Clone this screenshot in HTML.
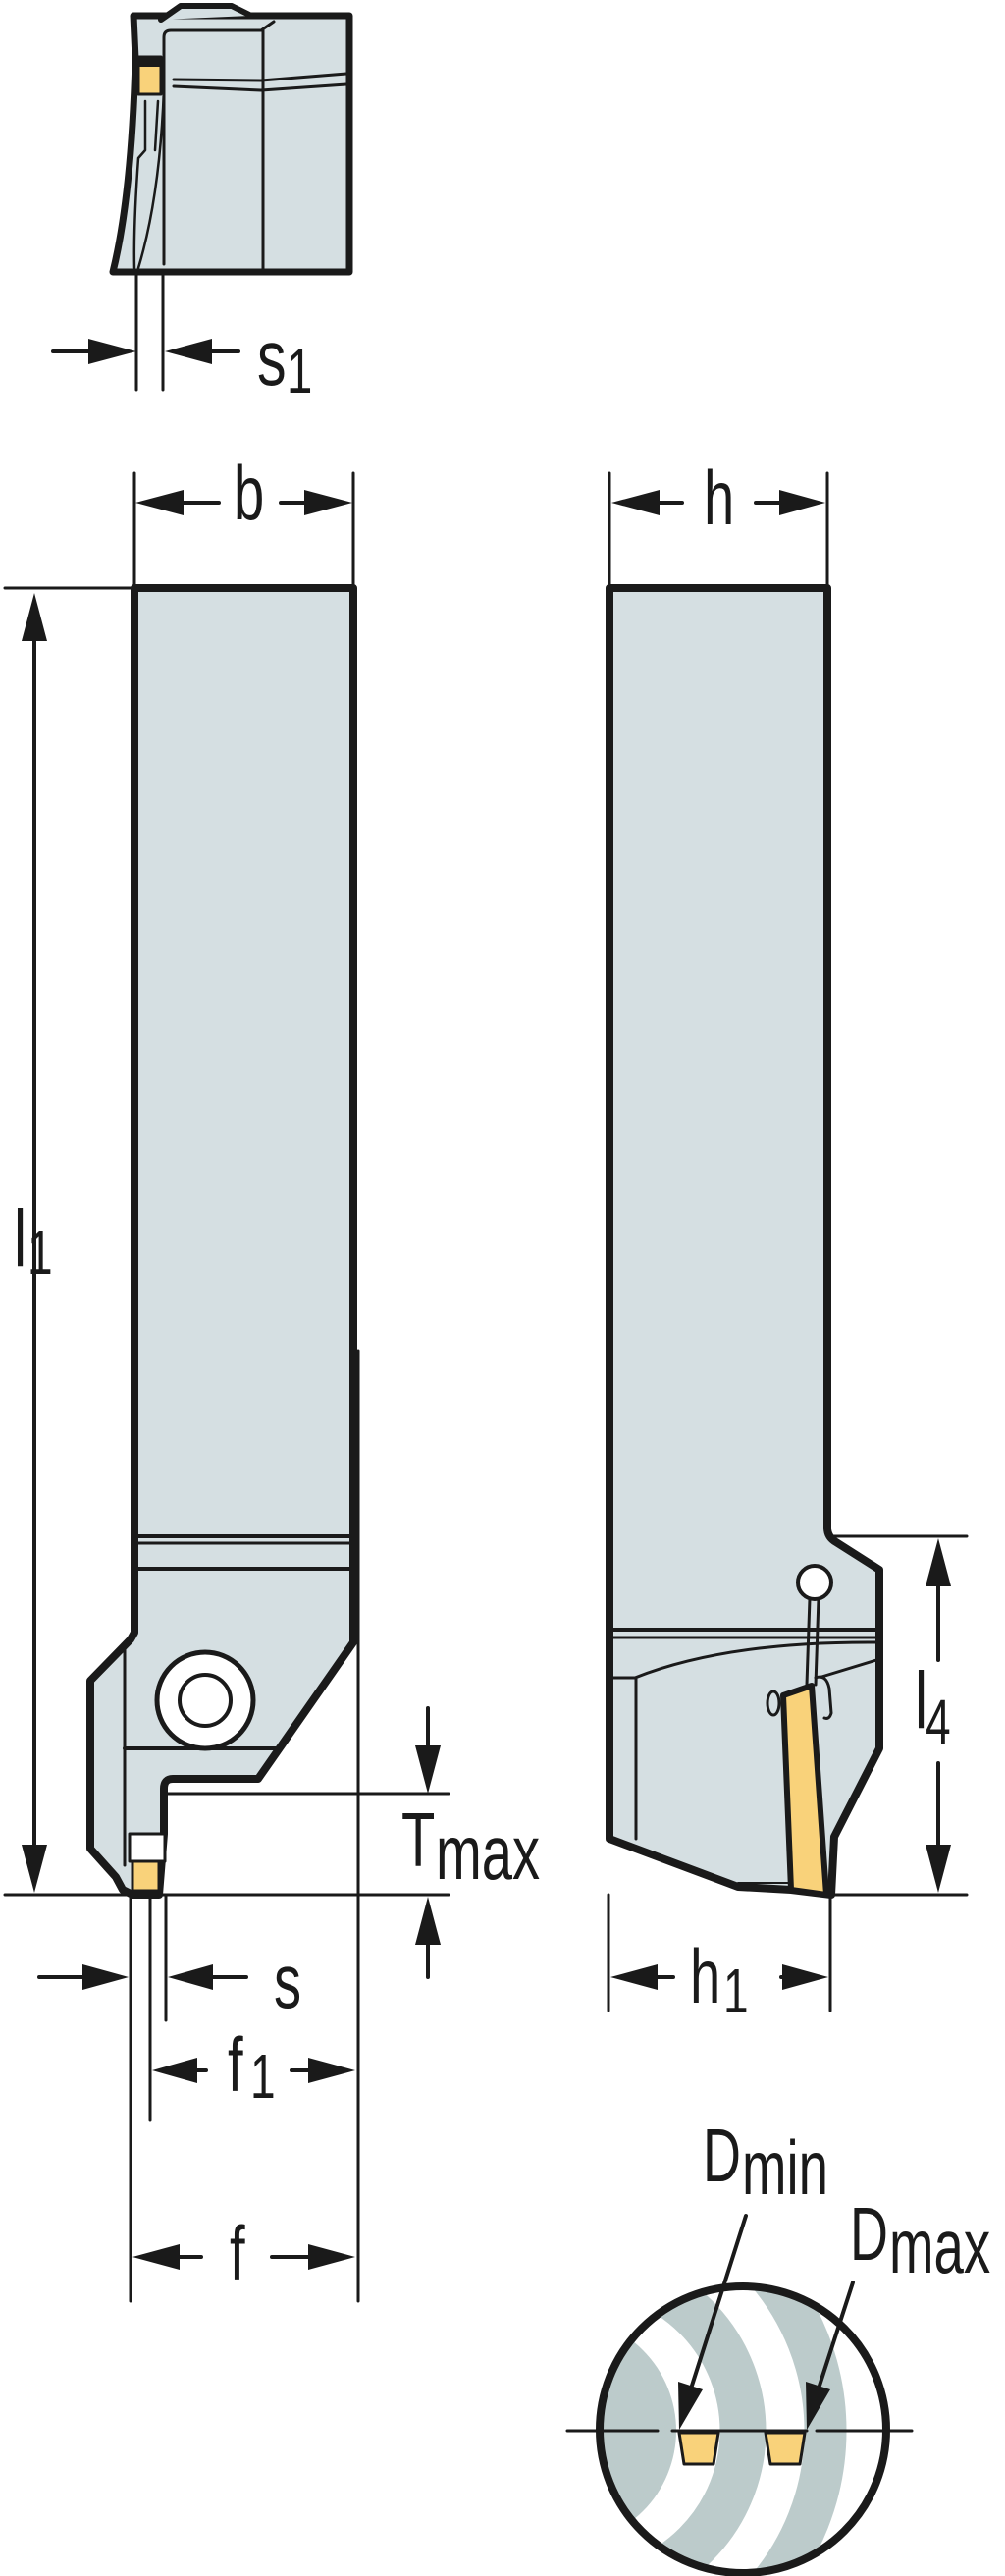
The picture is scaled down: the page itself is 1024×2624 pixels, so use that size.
<!DOCTYPE html>
<html><head><meta charset="utf-8"><style>
html,body{margin:0;padding:0;background:#fff;}
svg{display:block;}
text{font-family:"Liberation Sans",sans-serif;fill:#1a1a1a;}
</style></head><body>
<svg width="1024" height="2624" viewBox="0 0 1024 2624" xmlns="http://www.w3.org/2000/svg">
<defs>
<clipPath id="cc"><circle cx="757" cy="2475" r="146"/></clipPath>
</defs>
<g stroke="#1a1a1a" stroke-linejoin="round" stroke-linecap="round">

<!-- TOP VIEW -->
<path d="M136,16 L356,16 L356,277 L115,277 Q134,200 138,60 Z" fill="#d5dfe2" stroke-width="7"/>
<path d="M164,20 L184,6 L236,6 L256,16" fill="#d5dfe2" stroke-width="6"/>
<path d="M167,269 L167,38 Q167,31 174,31 L266,31 L279,22" fill="none" stroke-width="3"/>
<line x1="268" y1="31" x2="268" y2="277" stroke-width="3"/>
<path d="M177,81 L266,82 L353,75 M177,88 L266,92 L353,86" fill="none" stroke-width="3"/>
<path d="M148,103 L148,153 L141,161 Q136,230 137,273 M167,90 Q163,200 141,273 M161,103 L158,153" fill="none" stroke-width="2.5"/>
<rect x="141" y="58" width="23" height="38" fill="#f9d27a" stroke-width="3"/>
<rect x="141" y="58" width="23" height="9" fill="#1a1a1a" stroke-width="2"/>
<!-- s1 -->
<line x1="139" y1="277" x2="139" y2="397" stroke-width="3"/>
<line x1="166" y1="277" x2="166" y2="397" stroke-width="3"/>
<line x1="54" y1="358" x2="95" y2="358" stroke-width="4"/>
<polygon points="139,358 90,345 90,371" fill="#1a1a1a" stroke="none"/>
<line x1="205" y1="358" x2="243" y2="358" stroke-width="4"/>
<polygon points="168,358 216,345 216,371" fill="#1a1a1a" stroke="none"/>

<!-- b / h dims -->
<line x1="137" y1="482" x2="137" y2="599" stroke-width="3"/>
<line x1="360" y1="482" x2="360" y2="599" stroke-width="3"/>
<line x1="180" y1="512" x2="223" y2="512" stroke-width="4"/>
<polygon points="138,512 187,499 187,525" fill="#1a1a1a" stroke="none"/>
<line x1="286" y1="512" x2="315" y2="512" stroke-width="4"/>
<polygon points="359,512 310,499 310,525" fill="#1a1a1a" stroke="none"/>
<line x1="621" y1="482" x2="621" y2="599" stroke-width="3"/>
<line x1="843" y1="482" x2="843" y2="599" stroke-width="3"/>
<line x1="665" y1="512" x2="695" y2="512" stroke-width="4"/>
<polygon points="623,512 672,499 672,525" fill="#1a1a1a" stroke="none"/>
<line x1="770" y1="512" x2="800" y2="512" stroke-width="4"/>
<polygon points="841,512 794,499 794,525" fill="#1a1a1a" stroke="none"/>

<!-- LEFT MAIN BODY -->
<path d="M137,599 L360,599 L360,1673 L263,1812 L176,1812 Q167,1812 167,1822 L167,1868 L162,1930 L135,1930 L125,1925 L118,1912 L92,1883 L92,1712 L133,1670 L137,1663 Z" fill="#d5dfe2" stroke-width="8"/>
<line x1="127" y1="1678" x2="127" y2="1900" stroke-width="3"/>
<line x1="137" y1="1565" x2="360" y2="1565" stroke-width="4"/>
<line x1="137" y1="1572" x2="360" y2="1572" stroke-width="3"/>
<line x1="137" y1="1598" x2="360" y2="1598" stroke-width="4"/>
<line x1="127" y1="1781" x2="283" y2="1781" stroke-width="4"/>
<circle cx="209" cy="1732" r="49" fill="#fff" stroke-width="5"/>
<circle cx="209" cy="1732" r="26" fill="#fff" stroke-width="4"/>
<rect x="132" y="1868" width="36" height="28" fill="#fff" stroke-width="3"/>
<rect x="135" y="1896" width="27" height="30" fill="#f9d27a" stroke-width="3"/>
<line x1="365" y1="1376" x2="365" y2="2344" stroke-width="3"/>

<!-- l1 -->
<line x1="5" y1="599" x2="137" y2="599" stroke-width="3"/>
<line x1="35" y1="640" x2="35" y2="1890" stroke-width="4"/>
<polygon points="35,604 22,653 48,653" fill="#1a1a1a" stroke="none"/>
<polygon points="35,1928 22,1879 48,1879" fill="#1a1a1a" stroke="none"/>

<!-- Tmax -->
<line x1="170" y1="1827" x2="457" y2="1827" stroke-width="3"/>
<line x1="5" y1="1930" x2="457" y2="1930" stroke-width="3"/>
<line x1="436" y1="1740" x2="436" y2="1785" stroke-width="4"/>
<polygon points="436,1827 423,1778 449,1778" fill="#1a1a1a" stroke="none"/>
<line x1="436" y1="1975" x2="436" y2="2014" stroke-width="4"/>
<polygon points="436,1932 423,1981 449,1981" fill="#1a1a1a" stroke="none"/>

<!-- s / f1 / f -->
<line x1="133" y1="1930" x2="133" y2="2344" stroke-width="3"/>
<line x1="169" y1="1930" x2="169" y2="2058" stroke-width="3"/>
<line x1="153" y1="1930" x2="153" y2="2160" stroke-width="3"/>
<line x1="40" y1="2014" x2="90" y2="2014" stroke-width="4"/>
<polygon points="131,2014 84,2001 84,2027" fill="#1a1a1a" stroke="none"/>
<line x1="210" y1="2014" x2="251" y2="2014" stroke-width="4"/>
<polygon points="171,2014 217,2001 217,2027" fill="#1a1a1a" stroke="none"/>
<line x1="195" y1="2109" x2="210" y2="2109" stroke-width="4"/>
<polygon points="155,2109 201,2096 201,2122" fill="#1a1a1a" stroke="none"/>
<line x1="297" y1="2109" x2="318" y2="2109" stroke-width="4"/>
<polygon points="362,2109 314,2096 314,2122" fill="#1a1a1a" stroke="none"/>
<line x1="180" y1="2299" x2="205" y2="2299" stroke-width="4"/>
<polygon points="135,2299 183,2286 183,2312" fill="#1a1a1a" stroke="none"/>
<line x1="277" y1="2299" x2="318" y2="2299" stroke-width="4"/>
<polygon points="362,2299 314,2286 314,2312" fill="#1a1a1a" stroke="none"/>

<!-- RIGHT BODY -->
<path d="M621,599 L843,599 L843,1556 Q843,1566 852,1571 L896,1599 L896,1781 L850,1871 L847,1930 L806,1925 L752,1922 L621,1873 Z" fill="#d5dfe2" stroke-width="8"/>
<line x1="621" y1="1660" x2="895" y2="1660" stroke-width="4"/>
<line x1="621" y1="1668" x2="895" y2="1668" stroke-width="3"/>
<line x1="621" y1="1709" x2="648" y2="1709" stroke-width="3"/>
<line x1="648" y1="1709" x2="648" y2="1873" stroke-width="3"/>
<path d="M647,1709 Q740,1672 893,1673 M834,1709 L893,1691" fill="none" stroke-width="3"/>
<line x1="752" y1="1918" x2="806" y2="1918" stroke-width="2"/>
<ellipse cx="788" cy="1735" rx="6" ry="12" fill="#d5dfe2" stroke-width="3"/>
<polygon points="798,1727 827,1717 842,1930 806,1925" fill="#f9d27a" stroke-width="6"/>
<path d="M831,1709 Q842,1705 845,1720 L847,1745 Q845,1752 840,1750" fill="#d5dfe2" stroke-width="3"/>
<line x1="825" y1="1628" x2="822" y2="1716" stroke-width="3"/>
<line x1="834" y1="1628" x2="831" y2="1716" stroke-width="3"/>
<circle cx="830" cy="1612" r="17" fill="#fff" stroke-width="4"/>

<!-- l4 -->
<line x1="843" y1="1565" x2="985" y2="1565" stroke-width="3"/>
<line x1="843" y1="1930" x2="985" y2="1930" stroke-width="3"/>
<line x1="956" y1="1610" x2="956" y2="1691" stroke-width="4"/>
<polygon points="956,1567 943,1616 969,1616" fill="#1a1a1a" stroke="none"/>
<line x1="956" y1="1796" x2="956" y2="1885" stroke-width="4"/>
<polygon points="956,1928 943,1879 969,1879" fill="#1a1a1a" stroke="none"/>

<!-- h1 -->
<line x1="620" y1="1930" x2="620" y2="2048" stroke-width="3"/>
<line x1="846" y1="1930" x2="846" y2="2048" stroke-width="3"/>
<line x1="665" y1="2014" x2="686" y2="2014" stroke-width="4"/>
<polygon points="622,2014 670,2001 670,2027" fill="#1a1a1a" stroke="none"/>
<line x1="796" y1="2014" x2="805" y2="2014" stroke-width="4"/>
<polygon points="844,2014 797,2001 797,2027" fill="#1a1a1a" stroke="none"/>

<!-- CIRCLE DETAIL -->
<g clip-path="url(#cc)" stroke="none">
<circle cx="757" cy="2475" r="146" fill="#fff"/>
<circle cx="573" cy="2476" r="116" fill="#bccbcb"/>
<circle cx="593" cy="2476" r="164" fill="none" stroke="#bccbcb" stroke-width="47"/>
<circle cx="593" cy="2476" r="248" fill="none" stroke="#bccbcb" stroke-width="43"/>
</g>
<circle cx="757" cy="2475" r="146" fill="none" stroke-width="8"/>
<line x1="578" y1="2476" x2="670" y2="2476" stroke-width="3"/>
<line x1="685" y1="2476" x2="822" y2="2476" stroke-width="3"/>
<line x1="832" y1="2476" x2="929" y2="2476" stroke-width="3"/>
<polygon points="692,2478 732,2478 727,2510 697,2510" fill="#f9d27a" stroke-width="3"/>
<polygon points="780,2478 820,2478 815,2510 785,2510" fill="#f9d27a" stroke-width="3"/>
<line x1="760" y1="2257" x2="705" y2="2430" stroke-width="4"/>
<polygon points="692,2475 691,2426 716,2434" fill="#1a1a1a" stroke="none"/>
<line x1="869" y1="2325" x2="835" y2="2430" stroke-width="4"/>
<polygon points="822,2475 821,2426 846,2434" fill="#1a1a1a" stroke="none"/>
</g>

<!-- TEXT -->
<g transform="translate(262,392) scale(0.74,1)"><text font-size="80">s</text></g>
<g transform="translate(292,400) scale(0.74,1)"><text font-size="64">1</text></g>
<g transform="translate(238,529) scale(0.72,1)"><text font-size="78">b</text></g>
<g transform="translate(717,534) scale(0.72,1)"><text font-size="78">h</text></g>
<g transform="translate(14,1290) scale(0.72,1)"><text font-size="82">l</text></g>
<g transform="translate(28,1298) scale(0.72,1)"><text font-size="64">1</text></g>
<g transform="translate(409,1901) scale(0.72,1)"><text font-size="78">T</text></g>
<g transform="translate(444,1914) scale(0.72,1)"><text font-size="78">max</text></g>
<g transform="translate(279,2045) scale(0.72,1)"><text font-size="78">s</text></g>
<g transform="translate(232,2130) scale(0.72,1)"><text font-size="78">f</text></g>
<g transform="translate(255,2137) scale(0.72,1)"><text font-size="64">1</text></g>
<g transform="translate(234,2322) scale(0.72,1)"><text font-size="78">f</text></g>
<g transform="translate(932,1760) scale(0.72,1)"><text font-size="82">l</text></g>
<g transform="translate(943,1776) scale(0.72,1)"><text font-size="64">4</text></g>
<g transform="translate(703,2040) scale(0.72,1)"><text font-size="78">h</text></g>
<g transform="translate(737,2050) scale(0.72,1)"><text font-size="64">1</text></g>
<g transform="translate(716,2222) scale(0.7,1)"><text font-size="77">D</text></g>
<g transform="translate(756,2235) scale(0.7,1)"><text font-size="78">min</text></g>
<g transform="translate(866,2302) scale(0.7,1)"><text font-size="77">D</text></g>
<g transform="translate(906,2315) scale(0.7,1)"><text font-size="78">max</text></g>
</svg>
</body></html>
